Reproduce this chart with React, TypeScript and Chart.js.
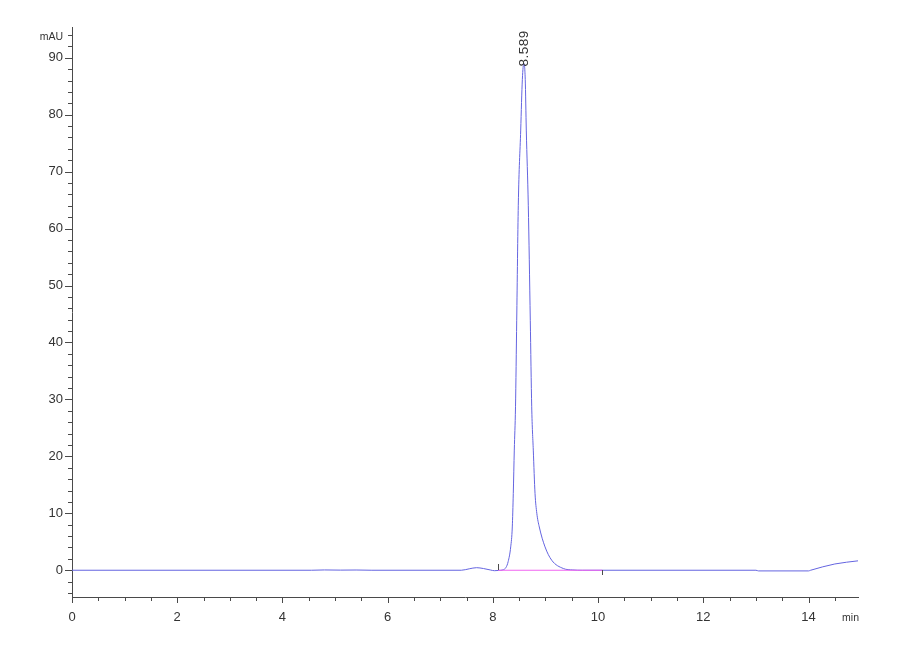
import { useEffect, useRef } from "react";
import { Chart, registerables } from "chart.js";

Chart.register(...registerables);

// chromatogram trace
const timeMin = [
  0, 4.55, 4.8, 5.1, 5.4, 5.7, 7.4, 7.55, 7.69, 7.82, 7.95, 8.03, 8.1, 8.2, 8.25, 8.29, 8.339,
  8.369, 8.388, 8.407, 8.43, 8.453, 8.483, 8.529, 8.56, 8.589, 8.615, 8.635, 8.673, 8.711,
  8.738, 8.768, 8.801, 8.835, 8.882, 8.991, 9.118, 9.339, 9.52, 9.7, 13.0, 13.05, 14.0, 14.04,
  14.5, 14.94,
];
const absorbanceMAU = [
  0, 0, 0.05, 0.02, 0.04, 0, 0, 0.25, 0.45, 0.3, 0.05, -0.08, -0.04, 0.1, 0.5, 1.5, 4.1, 7.6,
  13.5, 21.1, 28.7, 43.9, 64.1, 77.3, 86.2, 89, 86.2, 77.3, 64.1, 43.9, 28.7, 21.1, 13.5, 10.0,
  7.6, 4.1, 1.76, 0.3, 0.05, 0, 0, -0.12, -0.12, 0, 1.1, 1.65,
];

// integration baseline and the peak annotation
const baselineTimes = [8.1, 10.08];
const baselineValues = [0, 0];
const peakTime = 8.589;
const peakValue = 89;
const peakLabel = "8.589";

const xRange = [0, 14.94];
const yRange = [-4.7, 95.4];

const AXIS = "#4a4a4a";
const TEXT = "#333";
const FONT = "'Liberation Sans', Arial, sans-serif";

const isMajor = (v: number, every: number) => Math.abs(v / every - Math.round(v / every)) < 1e-6;

const decorations = {
  id: "decorations",
  afterDraw(chart: any) {
    const { ctx, scales } = chart;
    const x = scales.x;
    const y = scales.y;
    ctx.save();
    ctx.strokeStyle = AXIS;
    ctx.lineWidth = 1;
    ctx.beginPath();
    x.ticks.forEach((t: any) => {
      const px = Math.round(x.getPixelForValue(t.value)) + 0.5;
      const len = isMajor(t.value, 2) ? 6 : 4;
      ctx.moveTo(px, x.top);
      ctx.lineTo(px, x.top + len);
    });
    y.ticks.forEach((t: any) => {
      const py = Math.round(y.getPixelForValue(t.value)) + 0.5;
      const len = isMajor(t.value, 10) ? 7 : 4;
      ctx.moveTo(y.right, py);
      ctx.lineTo(y.right - len, py);
    });
    // integration start / end markers
    const zero = Math.round(y.getPixelForValue(0));
    const s = Math.round(x.getPixelForValue(baselineTimes[0])) + 0.5;
    const e = Math.round(x.getPixelForValue(baselineTimes[1])) + 0.5;
    ctx.moveTo(s, zero - 6);
    ctx.lineTo(s, zero);
    ctx.moveTo(e, zero);
    ctx.lineTo(e, zero + 5);
    ctx.stroke();

    ctx.fillStyle = TEXT;
    ctx.font = `10.5px ${FONT}`;
    ctx.textAlign = "right";
    ctx.textBaseline = "middle";
    ctx.fillText("mAU", y.right - 9, y.getPixelForValue(94) + 2);
    ctx.fillText("min", x.right + 1, x.top + 21);

    // peak retention time, rotated
    const px = x.getPixelForValue(peakTime);
    const py = y.getPixelForValue(peakValue);
    ctx.translate(px, py + 3);
    ctx.rotate(-Math.PI / 2);
    ctx.font = `13.5px ${FONT}`;
    (ctx as any).letterSpacing = "0.5px";
    ctx.textAlign = "left";
    ctx.textBaseline = "middle";
    ctx.fillText(peakLabel, 0, 0);
    ctx.restore();
  },
};

export default function App() {
  const canvasRef = useRef<HTMLCanvasElement>(null);
  const chartRef = useRef<Chart | null>(null);

  useEffect(() => {
    if (!canvasRef.current) return;
    const ctx = canvasRef.current.getContext("2d");
    if (!ctx) return;

    chartRef.current = new Chart(ctx, {
      type: "line",
      data: {
        datasets: [
          {
            label: "Baseline",
            data: baselineTimes.map((t, i) => ({ x: t, y: baselineValues[i] })),
            borderColor: "#f064f0",
            borderWidth: 1.2,
            pointRadius: 0,
            fill: false,
            order: 0,
          },
          {
            label: "Signal",
            data: timeMin.map((t, i) => ({ x: t, y: absorbanceMAU[i] })),
            borderColor: "#6464e0",
            borderWidth: 1,
            pointRadius: 0,
            fill: false,
            cubicInterpolationMode: "monotone",
            order: 1,
          },
        ],
      },
      options: {
        responsive: false,
        animation: false,
        parsing: false,
        layout: { padding: { top: 27, right: 42, left: 0, bottom: 0 } },
        scales: {
          x: {
            type: "linear",
            min: xRange[0],
            max: xRange[1],
            afterFit: (scale: any) => {
              scale.height = 63;
            },
            grid: { display: false, drawTicks: false },
            border: { display: true, color: AXIS, width: 1 },
            ticks: {
              stepSize: 0.5,
              includeBounds: false,
              autoSkip: false,
              maxRotation: 0,
              padding: 13,
              color: TEXT,
              font: { family: FONT, size: 13 },
              callback: (v: any) => (isMajor(Number(v), 2) ? String(v) : ""),
            },
          },
          y: {
            type: "linear",
            min: yRange[0],
            max: yRange[1],
            afterFit: (scale: any) => {
              scale.width = 72;
            },
            grid: { display: false, drawTicks: false },
            border: { display: true, color: AXIS, width: 1 },
            ticks: {
              stepSize: 2,
              includeBounds: false,
              autoSkip: false,
              padding: 9,
              color: TEXT,
              font: { family: FONT, size: 13 },
              callback: (v: any) => (isMajor(Number(v), 10) ? String(v) : ""),
            },
          },
        },
        plugins: {
          legend: { display: false },
          tooltip: { enabled: false },
        },
      },
      plugins: [decorations],
    });

    return () => {
      if (chartRef.current) {
        chartRef.current.destroy();
        chartRef.current = null;
      }
    };
  }, []);

  return (
    <div style={{ position: "fixed", top: 0, left: 0, width: 900, height: 660, background: "#fff" }}>
      <canvas ref={canvasRef} width={900} height={660} style={{ width: 900, height: 660 }} />
    </div>
  );
}
